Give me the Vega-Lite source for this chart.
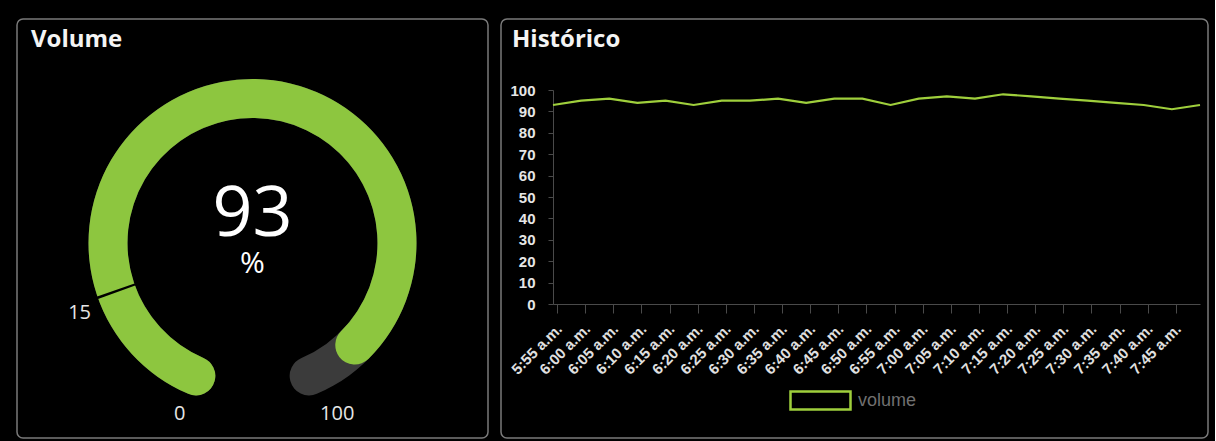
{
  "$schema": "https://vega.github.io/schema/vega-lite/v6.json",
  "background": "black",
  "padding": {"left": 16, "top": 18, "right": 6, "bottom": 2},
  "spacing": 11,
  "resolve": {"scale": {"color": "independent", "theta": "independent"}, "legend": {"color": "independent"}},
  "config": {
    "view": {"stroke": "#7a7a7a", "strokeWidth": 1.5, "cornerRadius": 6},
    "title": {"anchor": "start", "frame": "group", "offset": -33, "baseline": "alphabetic", "font": "Open Sans", "fontSize": 24, "fontWeight": "bold", "color": "#f4f4f4"}
  },
  "hconcat": [
    {
      "width": 471,
      "height": 419,
      "view": {"stroke": "#7a7a7a", "strokeWidth": 1.5, "cornerRadius": 6},
      "title": {"text": "Volume", "dx": 14},
      "layer": [
        {
          "data": {"values": [{"part": "track", "from": 0, "to": 100}, {"part": "value", "from": 0, "to": 93}]},
          "mark": {"type": "arc", "innerRadius": 125, "outerRadius": 164, "cornerRadius": 19.5, "thetaOffset": -0.134, "theta2Offset": 0.134, "yOffset": 14.5},
          "encoding": {
            "theta": {"field": "from", "type": "quantitative", "stack": null, "scale": {"domain": [0, 100], "range": [-2.74, 2.74]}},
            "theta2": {"field": "to"},
            "color": {"field": "part", "type": "nominal", "scale": {"domain": ["track", "value"], "range": ["#3b3b3b", "#8dc63f"]}, "legend": null}
          }
        },
        {
          "data": {"values": [{"threshold": 15}]},
          "mark": {"type": "arc", "innerRadius": 124, "outerRadius": 165, "theta2Offset": 0.016, "yOffset": 14.5, "color": "black"},
          "encoding": {
            "theta": {"field": "threshold", "type": "quantitative", "stack": null},
            "theta2": {"field": "threshold"}
          }
        },
        {
          "data": {"values": [{"v": 0, "label": "0"}]},
          "mark": {"type": "text", "radius": 186, "yOffset": 14.5, "font": "Open Sans", "fontSize": 20, "color": "#e6e6e6", "baseline": "middle", "align": "center"},
          "encoding": {
            "theta": {"field": "v", "type": "quantitative", "stack": null},
            "text": {"field": "label"}
          }
        },
        {
          "data": {"values": [{"v": 15, "label": "15"}]},
          "mark": {"type": "text", "radius": 186, "yOffset": 14.5, "dy": 7, "dx": 2, "font": "Open Sans", "fontSize": 20, "color": "#e6e6e6", "baseline": "middle", "align": "center"},
          "encoding": {
            "theta": {"field": "v", "type": "quantitative", "stack": null},
            "text": {"field": "label"}
          }
        },
        {
          "data": {"values": [{"v": 100, "label": "100"}]},
          "mark": {"type": "text", "radius": 186, "yOffset": 14.5, "dx": 12, "font": "Open Sans", "fontSize": 20, "color": "#e6e6e6", "baseline": "middle", "align": "center"},
          "encoding": {
            "theta": {"field": "v", "type": "quantitative", "stack": null},
            "text": {"field": "label"}
          }
        },
        {
          "data": {"values": [{"value": 93}]},
          "mark": {"type": "text", "yOffset": 7.5, "font": "Open Sans", "fontSize": 70, "color": "white", "baseline": "alphabetic", "align": "center"},
          "encoding": {"text": {"field": "value"}}
        },
        {
          "data": {"values": [{"unit": "%"}]},
          "mark": {"type": "text", "yOffset": 44.5, "font": "Open Sans", "fontSize": 30, "color": "white", "baseline": "alphabetic", "align": "center"},
          "encoding": {"text": {"field": "unit"}}
        }
      ]
    },
    {
      "width": 707,
      "height": 419,
      "title": {"text": "Histórico", "dx": 11},
      "data": {"values": [
        {"t": "5:55 a.m.", "volume": 93},
        {"t": "6:00 a.m.", "volume": 95},
        {"t": "6:05 a.m.", "volume": 96},
        {"t": "6:10 a.m.", "volume": 94},
        {"t": "6:15 a.m.", "volume": 95},
        {"t": "6:20 a.m.", "volume": 93},
        {"t": "6:25 a.m.", "volume": 95},
        {"t": "6:30 a.m.", "volume": 95},
        {"t": "6:35 a.m.", "volume": 96},
        {"t": "6:40 a.m.", "volume": 94},
        {"t": "6:45 a.m.", "volume": 96},
        {"t": "6:50 a.m.", "volume": 96},
        {"t": "6:55 a.m.", "volume": 93},
        {"t": "7:00 a.m.", "volume": 96},
        {"t": "7:05 a.m.", "volume": 97},
        {"t": "7:10 a.m.", "volume": 96},
        {"t": "7:15 a.m.", "volume": 98},
        {"t": "7:20 a.m.", "volume": 97},
        {"t": "7:25 a.m.", "volume": 96},
        {"t": "7:30 a.m.", "volume": 95},
        {"t": "7:35 a.m.", "volume": 94},
        {"t": "7:40 a.m.", "volume": 93},
        {"t": "7:45 a.m.", "volume": 91},
        {"t": "7:50 a.m.", "volume": 93}
      ]},
      "mark": {"type": "line", "strokeWidth": 2.2},
      "encoding": {
        "x": {
          "field": "t", "type": "ordinal", "sort": null,
          "scale": {"type": "point", "padding": 0, "range": [52, 699]},
          "axis": {
            "values": ["5:55 a.m.", "6:00 a.m.", "6:05 a.m.", "6:10 a.m.", "6:15 a.m.", "6:20 a.m.", "6:25 a.m.", "6:30 a.m.", "6:35 a.m.", "6:40 a.m.", "6:45 a.m.", "6:50 a.m.", "6:55 a.m.", "7:00 a.m.", "7:05 a.m.", "7:10 a.m.", "7:15 a.m.", "7:20 a.m.", "7:25 a.m.", "7:30 a.m.", "7:35 a.m.", "7:40 a.m.", "7:45 a.m."],
            "offset": -134, "title": null, "grid": false,
            "labelAngle": -45, "labelAlign": "right", "labelBaseline": "middle",
            "labelFont": "Liberation Sans", "labelFontWeight": "bold", "labelFontSize": 15, "labelColor": "#e0e0e0",
            "labelOverlap": false, "labelBound": false, "labelPadding": 13,
            "tickColor": "#4a4a4a", "domainColor": "#4a4a4a", "tickSize": 9, "tickOffset": 4, "labelOffset": 2
          }
        },
        "y": {
          "field": "volume", "type": "quantitative",
          "scale": {"domain": [0, 100], "range": [285, 71]},
          "axis": {
            "values": [0, 10, 20, 30, 40, 50, 60, 70, 80, 90, 100],
            "offset": -52, "title": null, "grid": false,
            "labelFont": "Liberation Sans", "labelFontWeight": "bold", "labelFontSize": 15, "labelColor": "#e6e6e6",
            "tickColor": "#4a4a4a", "domainColor": "#4a4a4a", "tickSize": 5, "labelPadding": 13
          }
        },
        "color": {
          "datum": "volume",
          "scale": {"range": ["#9fcf3c"]},
          "legend": {
            "orient": "none", "legendX": 288, "legendY": 350, "title": null, "padding": 0,
            "symbolType": "M-1,-0.3H1V0.3H-1Z", "symbolSize": 3600, "symbolFillColor": "black", "symbolStrokeColor": "#9fcf3c", "symbolStrokeWidth": 2.5,
            "labelColor": "#707070", "labelFont": "Liberation Sans", "labelFontSize": 18, "labelOffset": 6
          }
        }
      }
    }
  ]
}
